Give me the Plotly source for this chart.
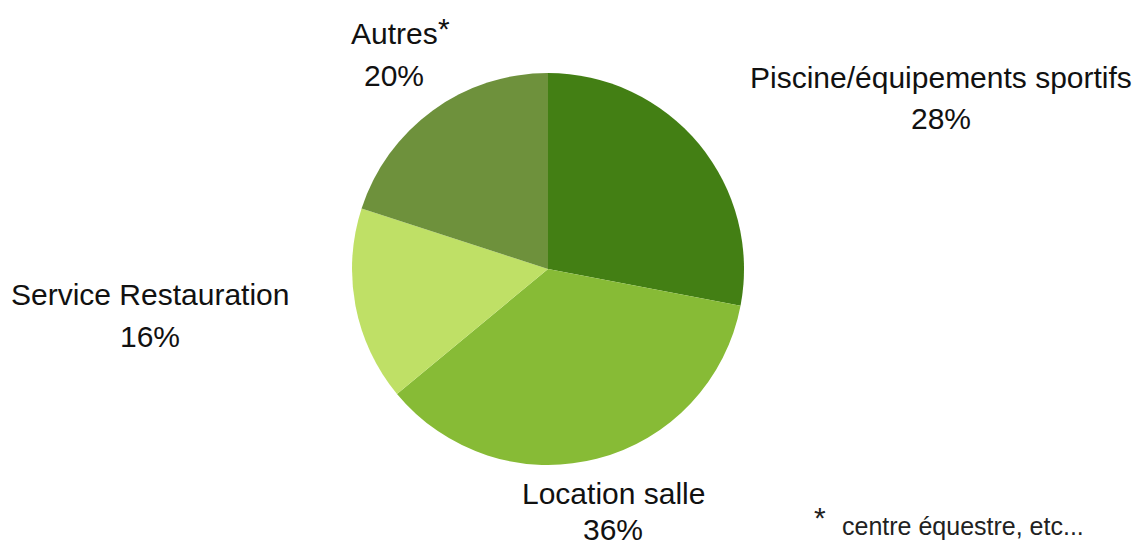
import plotly.graph_objects as go

# Répartition des recettes par activité (%)
categories = ["Piscine/équipements sportifs", "Location salle", "Service Restauration", "Autres"]
values = [28, 36, 16, 20]
colors = ["#437F14", "#87BB36", "#BFE066", "#6E913C"]

W, H = 1138, 548
FONT = "Liberation Sans, Arial, sans-serif"


def px(x, y):
    """Pixel coordinates (from the top-left corner) to paper coordinates."""
    return x / W, 1 - y / H


# Pie centred at (548, 269) with a radius of 196 px
cx, cy, r = 548, 269, 196
x0, y1 = px(cx - r, cy - r)
x1, y0 = px(cx + r, cy + r)

fig = go.Figure(
    go.Pie(
        labels=categories,
        values=values,
        marker=dict(colors=colors, line=dict(width=0)),
        sort=False,
        direction="clockwise",
        rotation=0,
        textinfo="none",
        hoverinfo="skip",
        domain=dict(x=[x0, x1], y=[y0, y1]),
        showlegend=False,
    )
)

# Label anchor points: (centre x, centre y of the name line, gap to the % line)
label_pos = {
    "Piscine/équipements sportifs": (941, 77, 42),
    "Location salle": (613, 493, 36),
    "Service Restauration": (150, 294, 42),
    "Autres": (394, 34, 42),
}

annotations = []
for name, val in zip(categories, values):
    lx, ly, gap = label_pos[name]
    ax, ay = px(lx, ly)
    annotations.append(dict(
        x=ax, y=ay, xref="paper", yref="paper", text=name, showarrow=False,
        xanchor="center", yanchor="middle",
        font=dict(family=FONT, size=30, color="#111111"),
    ))
    bx, by = px(lx, ly + gap)
    annotations.append(dict(
        x=bx, y=by, xref="paper", yref="paper", text=f"{val}%", showarrow=False,
        xanchor="center", yanchor="middle", borderpad=0,
        font=dict(family=FONT, size=30, color="#111111"),
    ))

# Asterisk after "Autres"
sx, sy = px(444, 28)
annotations.append(dict(
    x=sx, y=sy, xref="paper", yref="paper", text="*", showarrow=False,
    xanchor="center", yanchor="middle",
    font=dict(family=FONT, size=30, color="#111111"),
))

# Footnote
fx, fy = px(820, 517)
annotations.append(dict(
    x=fx, y=fy, xref="paper", yref="paper", text="*", showarrow=False,
    xanchor="center", yanchor="middle",
    font=dict(family=FONT, size=30, color="#222222"),
))
gx, gy = px(840, 526)
annotations.append(dict(
    x=gx, y=gy, xref="paper", yref="paper", text="centre équestre, etc...",
    showarrow=False, xanchor="left", yanchor="middle",
    font=dict(family=FONT, size=25, color="#222222"),
))

fig.update_layout(
    width=W, height=H,
    margin=dict(l=0, r=0, t=0, b=0),
    paper_bgcolor="white", plot_bgcolor="white",
    annotations=annotations,
)

fig.write_html("out.html")
